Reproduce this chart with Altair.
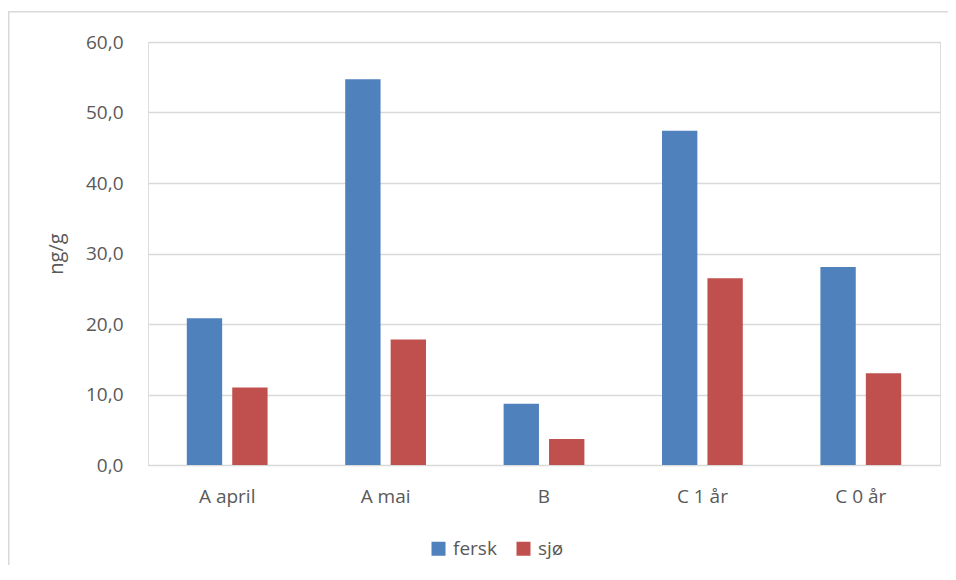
import altair as alt
import pandas as pd

categories = ["A april", "A mai", "B", "C 1 år", "C 0 år"]
series = ["fersk", "sjø"]
fersk = [20.8, 54.7, 8.7, 47.4, 28.1]
sjo = [11.0, 17.8, 3.7, 26.5, 13.0]
colors = ["#4F81BD", "#C0504D"]
y_ticks = [0, 10, 20, 30, 40, 50, 60]

rows = []
for c, a, b in zip(categories, fersk, sjo):
    rows.append({"kat": c, "serie": series[0], "verdi": a})
    rows.append({"kat": c, "serie": series[1], "verdi": b})
df = pd.DataFrame(rows)

FONT = "Open Sans"
TXT = "#595959"

bars = alt.Chart(df).mark_bar().encode(
    x=alt.X("kat:N", sort=categories, title=None,
            scale=alt.Scale(paddingInner=0.49, paddingOuter=0.245),
            axis=alt.Axis(labelAngle=0, labelFontSize=19, labelFont=FONT, labelColor=TXT,
                          ticks=False, domain=False, labelPadding=22, grid=False)),
    xOffset=alt.XOffset("serie:N", sort=series,
                        scale=alt.Scale(paddingInner=0.222, paddingOuter=0)),
    y=alt.Y("verdi:Q", title="ng/g",
            scale=alt.Scale(domain=[0, 60], nice=False),
            axis=alt.Axis(values=y_ticks,
                          labelExpr="replace(format(datum.value, '.1f'), '.', ',')",
                          labelFontSize=19, labelFont=FONT, labelColor=TXT,
                          titleFontSize=20, titleFont=FONT, titleColor=TXT,
                          titleFontWeight="normal", titlePadding=19,
                          ticks=False, domain=False, labelPadding=25,
                          gridColor="#D9D9D9", gridWidth=1.5)),
    color=alt.Color("serie:N", sort=series,
                    scale=alt.Scale(domain=series, range=colors),
                    legend=alt.Legend(title=None, orient="none", direction="horizontal",
                                      legendX=281, legendY=497,
                                      symbolType="square", symbolSize=196,
                                      symbolStrokeWidth=0,
                                      labelFontSize=19, labelFont=FONT, labelColor=TXT,
                                      labelOffset=5, columnPadding=17)),
)

frame = pd.DataFrame({"d": [0]})
border_top = alt.Chart(frame).mark_rect(color="#D9D9D9", strokeWidth=0).encode(
    x=alt.value(-140), x2=alt.value(800), y=alt.value(-31), y2=alt.value(-29.5),
)
border_left = alt.Chart(frame).mark_rect(color="#D9D9D9", strokeWidth=0).encode(
    x=alt.value(-140), x2=alt.value(-138.5), y=alt.value(-31), y2=alt.value(523),
)

chart = alt.layer(border_top, border_left, bars).properties(
    width=792, height=423,
    autosize=alt.AutoSizeParams(type="none"),
    padding={"left": 140, "top": 34, "right": 8, "bottom": 100},
).configure_view(stroke=None).configure(background="white")

chart.save("out.html", embed_options={"renderer": "svg", "actions": False})
